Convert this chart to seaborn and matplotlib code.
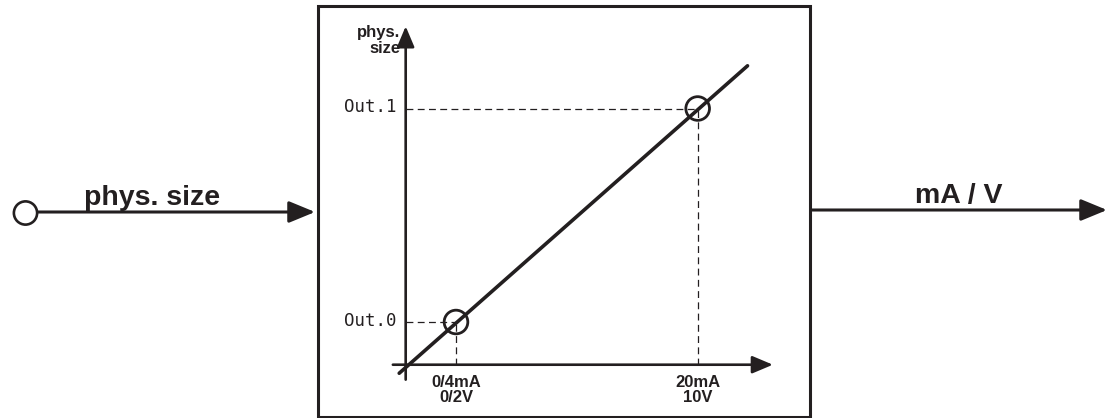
import matplotlib
matplotlib.use("Agg")
import matplotlib.pyplot as plt
import seaborn as sns
import pandas as pd
from matplotlib.patches import Rectangle

# data: two calibration points of the analog output
levels = ['Out.0', 'Out.1']
level_value = [0, 1]
signal_value = [2, 10]                      # volts
tick_labels = ['0/4mA\n0/2V', '20mA\n10V']
line_signal = [0.12, 11.65]                 # characteristic line ends
line_level = [-0.24, 1.2]
axis_signal = [-0.09, 12.49]                # x axis extent
axis_level = [-0.27, 1.385]                 # y axis extent
origin = (0.335, -0.2)
input_label = 'phys. size'
output_label = 'mA / V'
y_axis_label = 'phys.\nsize'

INK = '#231f20'
sns.set_theme(style='white')
plt.rcParams['font.family'] = ['Liberation Sans', 'DejaVu Sans']

fig = plt.figure(figsize=(11.14, 4.18), dpi=100)

# frame axes in pixel units
ax = fig.add_axes([0, 0, 1, 1])
ax.set_xlim(0, 1114)
ax.set_ylim(418, 0)
ax.axis('off')

ax.add_patch(Rectangle((317.5, 6), 492, 411, fill=False, ec=INK, lw=2.2))
sns.scatterplot(x=[25.5], y=[213], ax=ax, s=280, marker='o', fc='none', ec=INK, lw=1.9)

arrow_big = dict(arrowstyle='-|>,head_length=0.8,head_width=0.33', mutation_scale=20,
                 color=INK, lw=2.2, shrinkA=0, shrinkB=0)
ax.annotate('', xy=(315, 212), xytext=(38, 212), arrowprops=arrow_big)
ax.annotate('', xy=(1107, 210), xytext=(812, 210), arrowprops=arrow_big)
ax.text(152, 205, input_label, ha='center', va='baseline', fontsize=20.5,
        fontweight='bold', color=INK)
ax.text(959, 203, output_label, ha='center', va='baseline', fontsize=20.5,
        fontweight='bold', color=INK)

# graph axes in signal / level units
g = fig.add_axes([0, 0, 1, 1])
g.set_xlim(-13.094, 23.781)
g.set_ylim(-0.4496, 1.5082)
g.axis('off')
g.patch.set_alpha(0)

arrow_small = dict(arrowstyle='-|>,head_length=0.9,head_width=0.38', mutation_scale=14,
                   color=INK, lw=1.9, shrinkA=0, shrinkB=0)
g.annotate('', xy=(axis_signal[1], origin[1]), xytext=(axis_signal[0], origin[1]),
           arrowprops=arrow_small)
g.annotate('', xy=(origin[0], axis_level[1]), xytext=(origin[0], axis_level[0]),
           arrowprops=arrow_small)

dash = (0, (5.5, 3.5))
g.hlines(level_value, origin[0], signal_value, colors=INK, lw=0.9, linestyles=dash)
g.vlines(signal_value, origin[1], level_value, colors=INK, lw=0.9, linestyles=dash)

df_line = pd.DataFrame({'signal': line_signal, 'level': line_level})
sns.lineplot(data=df_line, x='signal', y='level', ax=g, color=INK, lw=2.6,
             estimator=None, sort=False)
df_pts = pd.DataFrame({'signal': signal_value, 'level': level_value})
sns.scatterplot(data=df_pts, x='signal', y='level', ax=g, s=290, marker='o',
                fc='none', ec=INK, lw=2.0, zorder=5)

for lab, val in zip(levels, level_value):
    g.annotate(lab, xy=(origin[0], val), xytext=(-6.5, 1), textcoords='offset points',
               ha='right', va='center', fontsize=12.5, color=INK,
               family='DejaVu Sans Mono')
for lab, val in zip(tick_labels, signal_value):
    g.annotate(lab, xy=(val, origin[1]), xytext=(0, -18), textcoords='offset points',
               ha='center', va='center', fontsize=12, fontweight='bold', color=INK,
               linespacing=1.0)
g.annotate(y_axis_label, xy=(origin[0], 1.32), xytext=(-4, 0), textcoords='offset points',
           ha='right', va='center', fontsize=12, fontweight='bold', color=INK,
           linespacing=1.1)

fig.savefig('out.png', dpi=100)
